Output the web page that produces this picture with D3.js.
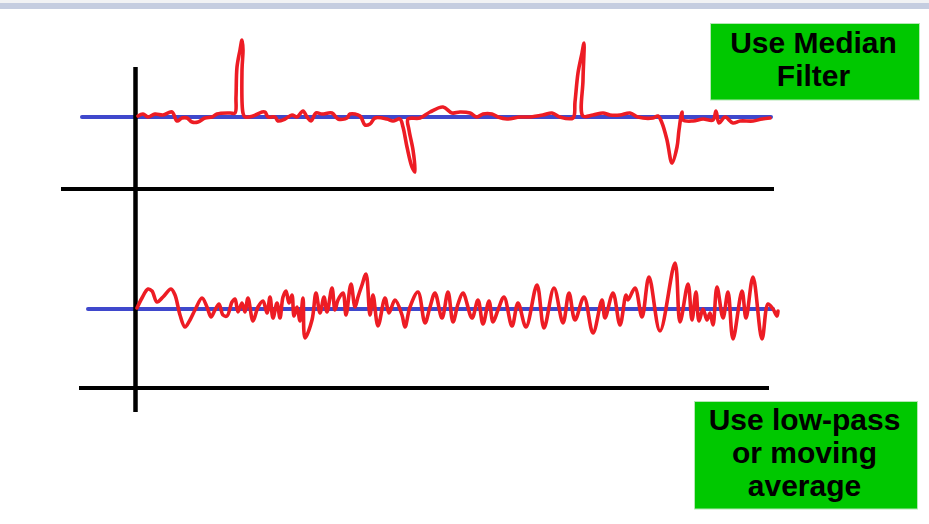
<!DOCTYPE html>
<html>
<head>
<meta charset="utf-8">
<script src="https://cdn.jsdelivr.net/npm/d3@7/dist/d3.min.js"></script>
<style>
  html, body { margin: 0; padding: 0; background: #ffffff; }
  svg { display: block; }
</style>
</head>
<body>
<svg id="chart" width="929" height="524"></svg>
<script>
// ---- Data: top signal (impulse noise) : time index, amplitude ----
const topT = [4,9,14,21,29,38,43,48,53,58,64,71,78,83,96,101,102,103,106,108,109,108,109,111,119,128,131,134,141,144,151,158,163,169,173,177,182,188,198,204,213,216,226,231,236,241,253,259,266,269,273,278,281,279,275,274,286,296,309,318,326,336,343,349,358,364,373,386,396,409,418,426,439,441,444,448,450,449,449,459,469,476,486,496,504,519,524,528,533,538,543,545,548,549,559,569,579,582,585,591,599,606,619,628,636];
const topV = [1,3,0,3,2,5,-4,-1,-1,-5,-5,-1,0,3,4,4,20,50,67,77,67,47,4,0,1,5,5,0,0,-4,-2,2,0,6,0,-4,4,3,4,-2,-1,3,1,-8,-7,-1,-2,-4,-2,-10,-30,-50,-55,-33,-13,-2,-1,5,10,4,5,4,0,3,3,0,-2,0,0,2,4,0,-1,15,44,64,74,37,1,2,4,2,2,4,0,-1,1,-6,-23,-46,-30,-13,5,-3,-4,-2,-3,6,-6,0,-6,-4,-4,-2,-1];

// ---- Data: bottom signal (random noise) : time index, amplitude ----
const botT = [3,8,14,18,23,29,37,41,46,51,56,61,68,73,77,81,85,89,93,98,101,104,108,111,114,119,124,129,133,136,139,143,146,149,152,155,158,160,163,166,169,171,178,182,186,190,193,198,201,204,209,212,217,221,224,228,232,236,239,244,251,255,261,268,271,276,284,291,296,301,308,314,319,324,329,338,344,349,355,359,364,370,378,384,392,403,410,420,429,435,441,450,459,468,471,479,486,492,494,501,508,515,526,541,546,554,558,562,565,569,573,576,579,583,589,594,599,608,612,619,628,634,639,643,644];
const botV = [1,11,20,18,7,12,20,14,-6,-18,-11,-1,11,2,-8,-1,5,-6,-7,7,10,-3,6,-3,11,-12,2,8,-4,12,-9,6,-9,12,18,6,14,-7,2,-12,11,-29,-11,16,-4,12,-3,21,-1,9,16,-6,25,2,12,24,35,-6,14,-17,11,-4,9,-6,-18,2,17,-14,2,16,-9,17,-13,5,16,-9,9,-15,8,-13,-1,12,-17,6,-18,24,-19,21,-14,16,-11,12,-24,9,-9,16,-16,14,9,21,-8,32,-22,46,-13,25,-11,17,-12,0,-11,-4,-16,22,-9,17,-30,18,-9,32,-30,5,0,-7,-2];

// ---- Reference lines (time extents) ----
const refTop = { blue: [-52, 637], black: [-73, 640] };
const refBot = { blue: [-46, 639], black: [-55, 635] };

// ---- Annotation texts ----
const note1 = ["Use Median", "Filter"];
const note2 = ["Use low-pass", "or moving", "average"];

const svg = d3.select("#chart");

// header band
svg.append("rect").attr("x", 0).attr("y", 0).attr("width", 929).attr("height", 3).attr("fill", "#f1f2f4");
svg.append("rect").attr("x", 0).attr("y", 3).attr("width", 929).attr("height", 6).attr("fill", "#c5cde0");

// scales
const x = d3.scaleLinear().domain([0, 640]).range([134, 774]);
const yTop = d3.scaleLinear().domain([-60, 80]).range([177, 37]);
const yBot = d3.scaleLinear().domain([-40, 50]).range([349, 259]);

const blue = "#3f48cc", red = "#ed1c24";

// blue baselines
[[refTop, yTop], [refBot, yBot]].forEach(([r, ys]) => {
  svg.append("line")
    .attr("x1", x(r.blue[0])).attr("x2", x(r.blue[1]))
    .attr("y1", ys(0)).attr("y2", ys(0))
    .attr("stroke", blue).attr("stroke-width", 4).attr("stroke-linecap", "round");
});

// black time axes (lines below each signal)
svg.append("line")
  .attr("x1", x(refTop.black[0])).attr("x2", x(refTop.black[1]))
  .attr("y1", yTop(-72)).attr("y2", yTop(-72))
  .attr("stroke", "#000").attr("stroke-width", 4);
svg.append("line")
  .attr("x1", x(refBot.black[0])).attr("x2", x(refBot.black[1]))
  .attr("y1", yBot(-79)).attr("y2", yBot(-79))
  .attr("stroke", "#000").attr("stroke-width", 4);

// vertical axis
svg.append("line")
  .attr("x1", x(1.5)).attr("x2", x(1.5))
  .attr("y1", yTop(50)).attr("y2", yBot(-103))
  .attr("stroke", "#000").attr("stroke-width", 4.5);

// signals
const lineTop = d3.line().x((d, i) => x(topT[i])).y(d => yTop(d)).curve(d3.curveCatmullRom.alpha(0.5));
const lineBot = d3.line().x((d, i) => x(botT[i])).y(d => yBot(d)).curve(d3.curveCatmullRom.alpha(0.5));

svg.append("path").attr("d", lineTop(topV))
  .attr("fill", "none").attr("stroke", red).attr("stroke-width", 3.6)
  .attr("stroke-linejoin", "round").attr("stroke-linecap", "round");
svg.append("path").attr("d", lineBot(botV))
  .attr("fill", "none").attr("stroke", red).attr("stroke-width", 3.6)
  .attr("stroke-linejoin", "round").attr("stroke-linecap", "round");

// annotation boxes
function note(lines, bx, by, bw, bh, firstBaseline) {
  svg.append("rect").attr("x", bx).attr("y", by).attr("width", bw).attr("height", bh)
    .attr("fill", "#00c800").attr("stroke", "#b4e8b4").attr("stroke-width", 1);
  const t = svg.append("text")
    .attr("text-anchor", "middle")
    .attr("font-family", "'Liberation Sans', Arial, sans-serif")
    .attr("font-weight", "bold").attr("font-size", 30).attr("fill", "#000");
  lines.forEach((s, i) => {
    t.append("tspan").attr("x", bx + bw / 2 - 1.5).attr("y", firstBaseline + i * 33).text(s);
  });
}
note(note1, 710.5, 23.5, 209, 76.5, 53);
note(note2, 694.5, 401.5, 223, 107.5, 429.5);
</script>
</body>
</html>
